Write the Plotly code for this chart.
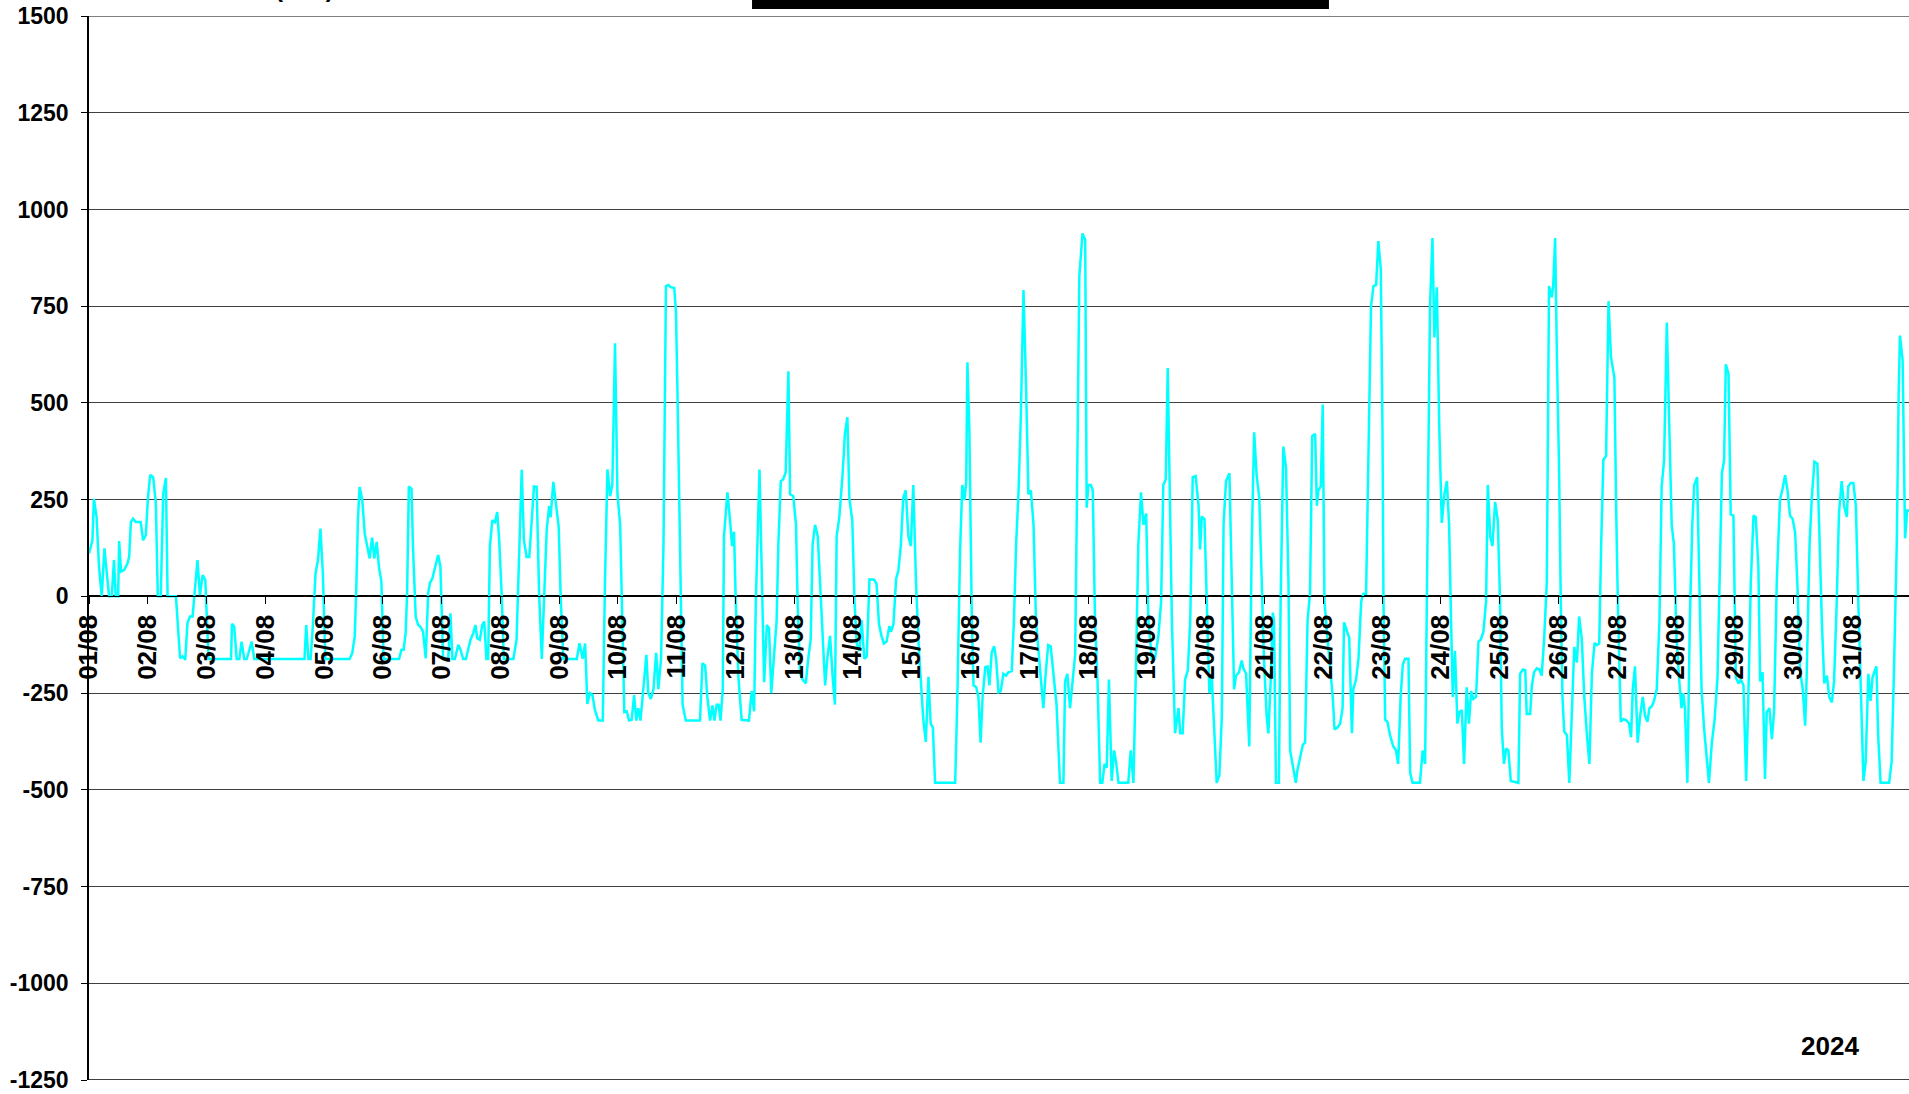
import pandas as pd
import plotly.graph_objects as go

# hourly readings, August 2024: hours since 01/08 00:00 and value (MW)
hours = [
    0, 1.4, 2.0, 3.1, 4.1, 5.2, 6.3, 7.1, 8.2, 9.3, 10.2, 10.9, 11.9, 12.3, 13.1, 14.3, 15.7, 16.4,
    17.1, 18.0, 19.1, 21.1, 22.1, 23.2, 24.1, 25.0, 26.2, 27.3, 28.1, 29.3, 30.3, 31.4, 32.1, 35.5,
    37.2, 38.2, 39.3, 40.2, 41.2, 42.3, 43.4, 44.3, 45.3, 46.4, 47.5, 48.8, 58.0, 58.4, 59.3, 60.3,
    61.4, 62.3, 63.4, 64.4, 65.5, 66.4, 67.5, 88.0, 88.7, 89.6, 90.5, 91.4, 92.5, 93.5, 94.5, 95.5,
    96.5, 106.4, 107.5, 108.5, 109.1, 109.8, 110.5, 111.6, 112.6, 113.5, 114.6, 115.6, 116.5, 117.5,
    118.4, 119.4, 120.3, 126.6, 127.6, 128.5, 129.3, 129.9, 130.6, 131.7, 132.3, 133.4, 134.4, 135.3,
    136.4, 137.5, 138.5, 139.2, 140.2, 141.2, 142.6, 143.5, 144.6, 146.7, 147.6, 148.4, 149.4, 150.8,
    151.7, 152.8, 153.9, 154.8, 155.8, 156.9, 157.8, 158.5, 159.6, 160.6, 161.4, 162.3, 163.0, 163.7,
    164.7, 165.8, 166.7, 167.5, 168.5, 169.4, 173.3, 174.6, 175.6, 176.7, 177.6, 178.7, 179.8, 180.8,
    181.7, 182.8, 183.8, 184.9, 185.8, 186.9, 187.9, 188.5, 189.6, 190.7, 191.8, 192.6, 193.7, 199.2,
    200.3,
    201.6, 202.6, 203.5, 204.6, 205.6, 206.6, 208.0, 209.8, 210.7, 211.7, 212.8, 213.7, 214.8, 215.8,
    216.9, 217.9, 218.6, 219.6, 220.5, 221.6, 222.6, 223.5, 224.3, 225.2, 226.4, 227.6, 228.4, 229.4,
    230.5, 231.6, 232.5, 233.6, 234.6, 235.6, 236.6, 237.5, 239.0, 239.7, 240.3, 241.1, 241.6, 242.4,
    243.7, 249.5, 250.5, 251.6, 252.5, 253.6, 254.6, 255.4, 256.3, 257.1, 257.9, 258.8, 259.3, 260.7,
    261.8, 262.6, 263.4, 264.1, 265.2, 266.5, 269.5, 270.6, 271.6, 272.3, 273.8, 274.7, 275.7, 276.8,
    277.7, 278.6, 279.7, 280.8, 281.5, 282.5, 283.5, 284.5, 285.6, 286.3, 287.6, 288.7, 289.4, 290.4,
    291.4, 292.7, 293.7, 294.7, 295.5, 296.5, 297.6, 298.5, 299.5, 300.6, 301.5, 302.6, 303.7, 304.6,
    305.3, 306.4, 307.7, 308.7, 309.7, 310.5, 311.7, 312.6, 313.5, 314.6, 315.5, 316.6, 317.6, 318.7,
    320.6, 321.6, 322.6, 323.6, 324.6, 325.7, 326.8, 327.5, 328.5, 329.6, 330.5, 331.5, 332.5, 333.5,
    334.6, 335.6, 336.6, 337.7, 338.9, 340.0, 340.7, 341.7, 342.8, 343.7, 344.6, 345.5, 353.7, 354.6,
    355.7, 356.6, 357.5, 358.2, 358.7, 359.5, 360.5, 361.2, 362.3, 363.2, 364.1, 364.9, 366.0, 366.9,
    367.7, 368.6, 369.6, 370.4, 371.4, 372.3, 373.4, 374.5, 375.4, 376.8, 377.7, 378.6, 379.6, 380.5,
    381.6, 382.7, 383.6, 384.6, 385.7, 386.7, 388.0, 389.0, 389.7, 390.7, 391.7, 392.7, 393.7, 395.1,
    396.5, 397.9, 398.6, 399.5, 400.6, 401.7, 402.7, 403.4, 404.4, 405.7, 406.8, 407.4, 408.1, 409.1,
    409.9, 410.8, 411.8, 412.9, 413.8, 414.7, 415.6, 416.5, 417.6, 418.6, 419.4, 420.4, 424.4, 425.4,
    426.5, 427.6, 428.5, 429.6, 430.6, 431.7, 432.6, 434.0, 435.3, 436.7, 437.8, 438.7, 439.7, 440.5,
    441.5, 442.2, 443.5, 444.9, 445.6, 446.6, 447.6, 448.7, 449.7, 450.7, 451.9, 453.1, 453.7, 454.4,
    455.5, 456.4, 457.5, 458.5, 459.5, 460.5, 461.6, 462.6, 463.3, 464.3, 465.7, 466.7, 467.6, 468.4,
    469.6, 470.7, 471.4, 472.5, 473.8, 474.8, 475.8, 476.8, 477.9, 478.9, 479.8, 480.9, 481.6, 482.6,
    483.4, 483.9, 484.7, 485.9, 486.6, 487.7, 488.8, 489.8, 490.5, 491.6, 492.8, 493.5, 494.6, 495.7,
    496.6, 497.6, 498.6, 499.5, 500.7, 501.4, 502.0, 503.0, 503.8, 504.5, 505.5, 506.8, 507.9, 508.6,
    509.8, 510.9, 511.9, 512.5, 513.6, 514.6, 515.7, 516.3, 517.4, 518.4, 519.5, 520.4, 521.5, 522.5,
    523.5, 524.5, 525.6, 526.5, 527.5, 528.2, 528.6, 529.3, 530.2, 531.3, 532.6, 533.7, 534.6, 535.6,
    536.5, 537.4, 538.8, 539.5, 540.5, 543.5, 544.6, 545.6, 546.5, 547.6, 548.6, 549.4, 550.4, 551.4,
    552.4, 553.5, 554.5, 555.4, 556.2, 556.9, 557.8, 558.8, 559.6, 560.6, 561.5, 562.6, 563.5, 564.4,
    565.3, 566.4, 567.4, 568.3, 569.4, 570.5, 571.2, 572.2, 573.1, 574.2, 575.3, 576.2, 576.9, 577.8,
    578.7, 579.6, 580.6, 583.7, 584.4, 585.5, 586.5, 587.1, 588.5, 589.2, 590.1, 591.2, 592.3, 593.2,
    594.2, 595.3, 596.2,
    597.3, 597.9, 598.7, 599.4, 600.3, 601.0, 601.7, 602.4, 603.5, 604.5, 605.5, 606.5, 607.6, 608.5,
    609.6, 610.6, 611.7, 612.7, 613.7, 614.8, 615.7, 616.7, 617.5, 618.4, 619.5, 620.5, 621.5, 622.9,
    623.6, 624.3, 625.5, 626.6, 627.9, 628.9, 629.7, 630.4, 631.3, 632.4, 633.4, 634.5, 635.4, 636.4,
    637.2, 638.2, 639.1, 640.2, 641.3, 642.2, 643.2, 644.3, 645.2, 646.3, 647.2, 648.3, 649.4, 650.3,
    651.0, 651.7, 652.7, 653.7, 654.7, 655.5, 656.7, 657.5, 658.5, 659.5, 660.6, 661.5, 662.7, 663.8,
    665.0, 666.1, 666.8, 667.7, 668.4, 669.5, 670.4, 671.5, 672.5, 673.6, 674.5, 675.6, 676.7, 677.6,
    678.6, 679.7, 680.6, 681.7, 682.4, 683.4, 684.4, 685.1, 686.2, 687.2, 688.1, 689.2, 690.5, 691.6,
    692.6, 693.6, 694.6, 695.7, 696.7, 697.6, 698.7, 699.8, 700.8, 701.4, 702.6, 703.5, 704.6, 705.8,
    706.6, 707.6, 708.6, 709.7, 710.6, 711.7, 712.6, 713.7, 714.6, 715.7, 716.7, 717.8, 718.4, 719.4,
    720.5, 721.5, 722.5, 723.5, 724.6, 725.5, 726.6, 727.5, 728.3, 729.3, 729.9, 730.6, 731.6, 735.1,
    736.1, 737.0, 738.2, 739.0, 739.5, 740.6, 741.6, 742.5, 743.2,
]

mw = [
    111, 145, 252, 205, 76, 0, 124, 76, 0, 0, 94, 0, 0, 143, 64, 68, 85, 102,
    192, 201, 192, 192, 145, 158, 257, 314, 308, 240, 0, 0, 265, 306, 0, 0,
    -160, -155, -164, -70, -52, -52, 42, 94, 3, 55, 42, -162, -162, -71, -78, -162,
    -162, -117, -162, -162, -138, -117, -162, -162, -74, -162, -162, -78, 59, 94, 175, 59,
    -162, -162, -147, -104, 8, 197, 283, 248, 162, 137, 98, 152, 98, 141,
    76, 38, -162, -162, -138, -138, -95, 8, 284, 278, 128, -52, -74, -78,
    -91, -160, 8, 34, 46, 72, 107, 76, -162, -162, -44, -162, -162, -125,
    -138, -162, -162, -138, -112, -95, -74, -108, -112, -74, -65, -162, -162, 128,
    197, 192, 218, 145, 8, -162, -162, -112, 128, 327, 145, 102, 102, 214,
    284, 283, 8, -162, 8, 171, 233, 205, 296, 240, 180, 0, -162, -162,
    -121,
    -161, -122, -278, -250, -255, -294, -321, -321, 37, 328, 259, 288, 654, 264,
    185, -62, -299, -297, -321, -319, -255, -321, -289, -321, -240, -151, -250, -265,
    -240, -146, -240, -161, 135, 802, 805, 799, 797, 733, 531, 234, -62, -280,
    -321, -321, -173, -179, -260, -321, -282, -321, -280, -280, -321, -240, 155, 269,
    195, 130, 167, -13, -210, -319, -321, -245, -297, -13, 328, 37, -222, -74,
    -82, -250, -161, -62, 135, 298, 303, 321, 582, 264, 259, 185, -23, -200,
    -215, -225, -161, -112, 135, 185, 155, 37, -92, -230, -161, -102, -210, -280,
    155, 205, 313, 422, 463, 254, 195, -13, -122, -141, -62, -161, -156, 44,
    43, 32, -72, -102, -122, -117, -77, -92, -72, 46, 66, 130, 254, 274,
    155, 130, 288, 37, -141, -250, -319, -376, -208, -329, -339, -482, -482, -260,
    116, 288, 249, 293, 605, 432, -62, -230, -235, -260, -378, -260, -183, -181,
    -230, -146, -129, -161, -248, -245, -200, -205, -196, -193, -62, 135, 274, 461,
    792, 531, 264, 274, 185, -62, -161, -245, -289, -196, -126, -129, -191, -280,
    -482, -482, -220, -200, -289, -210, -151, 234, 827, 938, 921, 229, 288, 288,
    274, -62, -210, -482, -482, -433, -443, -215, -477, -398, -428, -482, -482, -398,
    -482, -161, 135, 269, 185, 214, -62, -161, -161, -102, -13, 288, 303, 590,
    254, -62, -354, -289, -354, -354, -215, -191, -62, 308, 311, 234, 121, 206,
    200, -13, -250, -210, -359, -482, -462, -309, 185, 298, 318, -13, -240, -205,
    -196, -166, -186, -200, -388, 135, 424, 313, 254, 37, -161, -309, -354, -210,
    -42, -62, -482, -482, -13, 387, 333, 37, -398, -438, -482, -448, -418, -383,
    -378, -62, 7, 414, 420, 234, 274, 284, 496, -13, -92, -191, -260, -344,
    -339, -329, -289, -67, -87, -107, -354, -240, -215, -161, -13, 7, 7, 333,
    748, 802, 805, 918, 847, 432, -13, -319, -324, -359, -388, -398, -433, -260,
    -176, -161, -161, -457, -482, -482, -398, -433, 37, 748, 926, 669, 799, 432,
    190, 264, 298, 185, -62, -260, -141, -329, -299, -294, -433, -235, -329, -245,
    -265, -260, -117, -112, -92, -13, 288, 155, 130, 244, 195, -13, -339, -433,
    -393, -398, -477, -482, -200, -189, -191, -304, -304, -230, -196, -186, -189, -205,
    -112, 37, 802,
    773, 802, 926, 629, 333, -13, -260, -349, -359, -482, -309, -131, -171, -52,
    -112, -260, -359, -433, -200, -120, -126, -122, 135, 353, 363, 763, 619, 565,
    234, -13, -324, -317, -321, -329, -364, -240, -181, -378, -309, -260, -309, -324,
    -289, -284, -270, -240, -62, 284, 353, 708, 471, 185, 135, -112, -220, -289,
    -250, -289, -482, -62, 185, 288, 308, 37, -240, -339, -428, -482, -378, -319,
    -210, 135, 318, 353, 600, 575, 212, 209, -210, -225, -215, -230, -477, -260,
    37, 209, 205, 76, -220, -196, -472, -299, -289, -369, -299, 37, 249, 279,
    313, 274, 209, 200, 165, 37, -191, -240, -334, -210, 135, 254, 348, 343,
    135, -62, -225, -205, -260, -274, -220, -13, 214, 298, 234, 205, 284, 293,
    293, 234, -13, -260, -477, -428, -200, -270, -210, -191, -181, -359, -482, -482,
    -428, -210, 135, 531, 674, 610, 150, 224, 219,
]

y_ticks = list(range(-1250, 1501, 250))
start = pd.Timestamp("2024-08-01")
x_end = start + pd.Timedelta(hours=743.2)

times = start + pd.to_timedelta(hours, unit="h")

fig = go.Figure()
fig.add_trace(go.Scatter(
    x=times, y=mw, mode="lines",
    line=dict(color="#00FFFF", width=2.5),
    showlegend=False, hoverinfo="skip",
))

font_family = "Liberation Sans, Arial, sans-serif"

fig.update_layout(
    width=1909, height=1094,
    margin=dict(l=89, r=0, t=16, b=14),
    paper_bgcolor="white", plot_bgcolor="white",
    font=dict(family=font_family, color="black"),
    annotations=[
        dict(text="2024", xref="paper", yref="paper", x=0.9566, y=0.032,
             xanchor="center", yanchor="middle", showarrow=False,
             font=dict(size=26, weight="bold")),
        # title cut off at the top edge, only the bottom of "( )" shows
        dict(text="(MW)", xref="paper", yref="paper", x=0.1186, y=1.0113,
             xanchor="center", yanchor="bottom", showarrow=False,
             font=dict(size=24, weight="bold")),
    ],
    shapes=[
        # black title bar cut at the top of the page
        dict(type="rect", xref="paper", yref="paper", x0=0.3643, x1=0.6813,
             y0=1.0066, y1=1.03, fillcolor="black", line=dict(width=0)),
        # bottom frame line
        dict(type="line", xref="paper", yref="y", x0=0, x1=1, y0=-1250, y1=-1250,
             line=dict(color="black", width=1.5)),
        # top line, lighter grey
        dict(type="line", xref="paper", yref="y", x0=0, x1=1, y0=1500, y1=1500,
             line=dict(color="#808080", width=2)),
    ],
)

fig.update_yaxes(
    range=[-1250, 1500], tickvals=y_ticks, ticktext=[str(v) for v in y_ticks],
    showgrid=True, gridcolor="#404040", gridwidth=1,
    zeroline=True, zerolinecolor="black", zerolinewidth=1.5,
    showline=True, linecolor="black", linewidth=1.5,
    ticks="outside", ticklen=6, tickcolor="black", ticklabelstandoff=8,
    tickfont=dict(size=23, weight="bold", family=font_family),
)

fig.update_xaxes(
    range=[start, x_end], type="date",
    tick0=start, dtick=86400000, tickformat="%d/%m", tickangle=-90,
    anchor="free", position=1250 / 2750,
    showgrid=False, zeroline=False,
    showline=True, linecolor="black", linewidth=1,
    ticks="outside", ticklen=7, tickcolor="black",
    tickfont=dict(size=26, weight="bold", family=font_family),
)

fig.write_html(
    "out.html",
    config={"displayModeBar": False},
    post_script="document.body.style.margin = '0px';",
)
